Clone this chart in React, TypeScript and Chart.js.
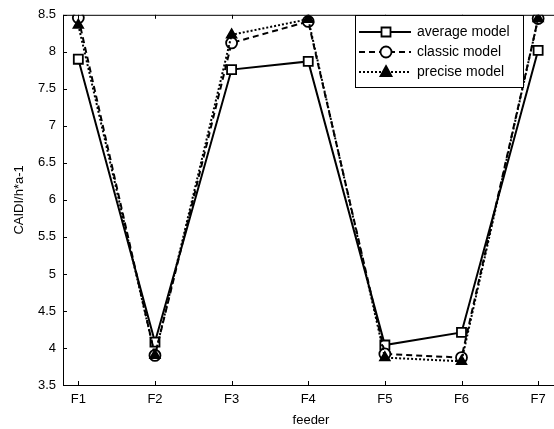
import React, { useEffect, useRef } from "react";
import { Chart, registerables } from "chart.js";

Chart.register(...registerables);

const feeders = ["F1", "F2", "F3", "F4", "F5", "F6", "F7"];
const averageModel = [7.9, 4.08, 7.76, 7.87, 4.04, 4.21, 8.02];
const classicModel = [8.46, 3.9, 8.12, 8.41, 3.92, 3.87, 8.45];
const preciseModel = [8.36, 3.9, 8.23, 8.44, 3.87, 3.82, 8.45];
const yTicks = [3.5, 4, 4.5, 5, 5.5, 6, 6.5, 7, 7.5, 8, 8.5];

const FONT = "Liberation Sans, Arial, sans-serif";

type Marker = "rect" | "circle" | "triangle";

function drawMarker(ctx: CanvasRenderingContext2D, kind: Marker, x: number, y: number) {
  ctx.save();
  ctx.setLineDash([]);
  ctx.lineWidth = 1.8;
  ctx.strokeStyle = "#000";
  ctx.beginPath();
  if (kind === "rect") {
    ctx.fillStyle = "#fff";
    ctx.rect(x - 4.5, y - 4.5, 9, 9);
    ctx.fill();
    ctx.stroke();
  } else if (kind === "circle") {
    ctx.fillStyle = "#fff";
    ctx.arc(x, y, 5.5, 0, Math.PI * 2);
    ctx.fill();
    ctx.stroke();
  } else {
    ctx.fillStyle = "#000";
    ctx.moveTo(x, y - 6);
    ctx.lineTo(x + 5.5, y + 4);
    ctx.lineTo(x - 5.5, y + 4);
    ctx.closePath();
    ctx.fill();
    ctx.stroke();
  }
  ctx.restore();
}

const legendItems: { label: string; dash: number[]; marker: Marker }[] = [
  { label: "average model", dash: [], marker: "rect" },
  { label: "classic model", dash: [6, 4], marker: "circle" },
  { label: "precise model", dash: [2, 2], marker: "triangle" },
];

const frame = {
  id: "frame",
  afterDraw(chart: any) {
    const { ctx, chartArea } = chart;
    const { left, top, bottom } = chartArea;
    const xs = chart.scales.x;
    const ys = chart.scales.y;
    ctx.save();
    ctx.strokeStyle = "#000";
    ctx.lineWidth = 1;
    ctx.setLineDash([]);
    ctx.beginPath();
    ctx.moveTo(left + 0.5, top + 0.5);
    ctx.lineTo(chart.width, top + 0.5);
    ctx.moveTo(left + 0.5, top);
    ctx.lineTo(left + 0.5, bottom + 0.5);
    ctx.lineTo(chart.width, bottom + 0.5);
    ctx.stroke();
    // inward tick marks
    ctx.beginPath();
    for (let i = 1; i <= feeders.length; i++) {
      const px = Math.round(xs.getPixelForValue(i)) + 0.5;
      ctx.moveTo(px, bottom);
      ctx.lineTo(px, bottom - 4);
      ctx.moveTo(px, top);
      ctx.lineTo(px, top + 4);
    }
    for (const v of yTicks) {
      const py = Math.round(ys.getPixelForValue(v)) + 0.5;
      ctx.moveTo(left, py);
      ctx.lineTo(left + 4, py);
    }
    ctx.stroke();

    // axis titles
    ctx.fillStyle = "#000";
    ctx.font = `13px ${FONT}`;
    ctx.textAlign = "center";
    ctx.textBaseline = "middle";
    ctx.fillText("feeder", 311, 420);
    ctx.save();
    ctx.translate(19, (top + bottom) / 2);
    ctx.rotate(-Math.PI / 2);
    ctx.fillText("CAIDI/h*a-1", 0, 0);
    ctx.restore();

    // legend box
    const bx = 355, by = 15, bw = 168, bh = 72;
    ctx.fillStyle = "#fff";
    ctx.fillRect(bx, by, bw, bh);
    ctx.strokeStyle = "#000";
    ctx.strokeRect(bx + 0.5, by + 0.5, bw, bh);
    legendItems.forEach((it, i) => {
      const y = 32 + i * 20;
      ctx.save();
      ctx.lineWidth = 2;
      ctx.setLineDash(it.dash);
      ctx.beginPath();
      ctx.moveTo(359, y);
      ctx.lineTo(411, y);
      ctx.stroke();
      ctx.restore();
      drawMarker(ctx, it.marker, 386, y);
      ctx.fillStyle = "#000";
      ctx.textAlign = "left";
      ctx.textBaseline = "middle";
      ctx.font = `14px ${FONT}`;
      ctx.fillText(it.label, 417, y + 0.5);
    });
    ctx.restore();
  },
};

function toPoints(values: number[]) {
  return values.map((v, i) => ({ x: i + 1, y: v }));
}

export default function App() {
  const ref = useRef<HTMLCanvasElement>(null);

  useEffect(() => {
    if (!ref.current) return;
    const common = {
      borderColor: "#000",
      borderWidth: 2,
      pointBorderColor: "#000",
      pointBorderWidth: 1.8,
      tension: 0,
      fill: false,
    };
    const chart = new Chart(ref.current, {
      type: "line",
      data: {
        datasets: [
          {
            ...common,
            label: "average model",
            data: toPoints(averageModel),
            pointStyle: "rect",
            pointRadius: 6.4,
            pointBackgroundColor: "#fff",
            order: 3,
          },
          {
            ...common,
            label: "classic model",
            data: toPoints(classicModel),
            borderDash: [6, 4],
            pointStyle: "circle",
            pointRadius: 5.5,
            pointBackgroundColor: "#fff",
            order: 2,
          },
          {
            ...common,
            label: "precise model",
            data: toPoints(preciseModel),
            borderDash: [2, 2],
            pointStyle: "triangle",
            pointRadius: 5.5,
            pointBackgroundColor: "#000",
            order: 1,
          },
        ],
      },
      options: {
        animation: false,
        responsive: false,
        layout: { padding: { top: 12, right: 1, left: 0, bottom: 0 } },
        plugins: { legend: { display: false }, tooltip: { enabled: false } },
        scales: {
          x: {
            type: "linear",
            min: 0.8,
            max: 7.1,
            afterBuildTicks(scale: any) {
              scale.ticks = feeders.map((_, i) => ({ value: i + 1 }));
            },
            afterFit(scale: any) {
              scale.height = 44;
            },
            ticks: {
              autoSkip: false,
              maxRotation: 0,
              padding: 7,
              color: "#000",
              font: { family: FONT, size: 13 },
              callback: (v: any) => feeders[Math.round(Number(v)) - 1] ?? "",
            },
            grid: { display: false, drawTicks: false },
            border: { display: false },
          },
          y: {
            type: "linear",
            min: 3.5,
            max: 8.5,
            afterBuildTicks(scale: any) {
              scale.ticks = yTicks.map((v) => ({ value: v }));
            },
            afterFit(scale: any) {
              scale.width = 63;
            },
            ticks: {
              padding: 7,
              color: "#000",
              font: { family: FONT, size: 13 },
              callback: (v: any) => String(v),
            },
            grid: { display: false, drawTicks: false },
            border: { display: false },
          },
        },
      },
      plugins: [frame],
    });
    return () => chart.destroy();
  }, []);

  return (
    <div style={{ position: "absolute", left: 0, top: 0, width: 554, height: 429, background: "#fff" }}>
      <canvas ref={ref} width={554} height={429} style={{ display: "block" }} />
    </div>
  );
}
